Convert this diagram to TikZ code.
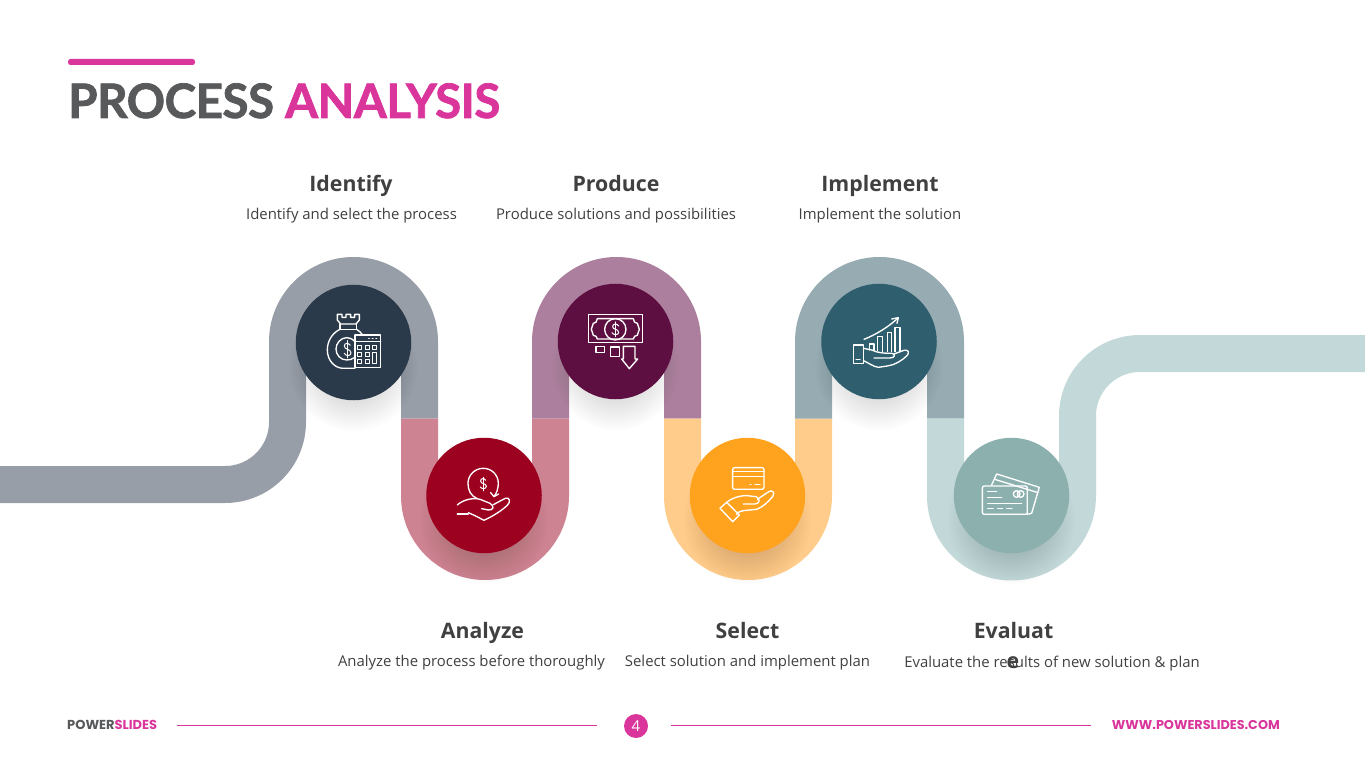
\documentclass[tikz,border=0pt]{standalone}
\usepackage{fontspec}
\setmainfont{Open Sans}
\newfontfamily\titlefont[BoldFeatures={FakeBold=1.6},LetterSpace=-1]{Lato}
\newfontfamily\footfont{Poppins}
\definecolor{pinkc}{HTML}{D9359B}
\definecolor{titlegray}{HTML}{58595B}
\definecolor{textgray}{HTML}{404040}
\definecolor{rA}{HTML}{979EA7}
\definecolor{rB}{HTML}{CE8393}
\definecolor{rC}{HTML}{AC7F9E}
\definecolor{rD}{HTML}{FFCC8B}
\definecolor{rE}{HTML}{96ABB2}
\definecolor{rF}{HTML}{C3D8D8}
\definecolor{cA}{HTML}{2B3A4A}
\definecolor{cB}{HTML}{9C0220}
\definecolor{cC}{HTML}{5E0F42}
\definecolor{cD}{HTML}{FFA21E}
\definecolor{cE}{HTML}{2F5F6E}
\definecolor{cF}{HTML}{8BB0AE}
\tikzset{
  ribbon/.style={line width=37pt,line cap=butt,line join=round},
  disc/.style={circle,inner sep=0pt,minimum size=115.5pt},
  head/.style={anchor=base,font=\bfseries\fontsize{21.3}{24}\selectfont,text=textgray,inner sep=0pt},
  sub/.style={anchor=base,font=\fontsize{14.9}{18}\selectfont,text=textgray,inner sep=0pt},
  ico/.style={draw=white,line width=1.35pt,line cap=round,line join=round},
  zoomA/.style={shift={(280,270)},x=0.3333pt,y=-0.3333pt},
  zoomB/.style={shift={(540,270)},x=0.3333pt,y=-0.3333pt},
  zoomC/.style={shift={(800,270)},x=0.3333pt,y=-0.3333pt},
}
\newcommand{\softshadow}[2]{%
  \foreach \rr in {36,38,...,64}{\fill[black,opacity=.008] (#1,#2+25) circle[radius=\rr pt];}}
\begin{document}
\begin{tikzpicture}[x=1pt,y=-1pt]
\useasboundingbox (0,0) rectangle (1365,767);
% ribbons
\draw[ribbon,rA] (0,484.5) -- (225,484.5) arc[start angle=-90,end angle=0,radius=62.5pt] -- (287.5,341.5) arc[start angle=180,end angle=0,radius=66pt] -- (419.5,418.5);
\draw[ribbon,rB] (419.5,418.5) -- (419.5,496) arc[start angle=180,end angle=360,radius=65.5pt] -- (550.5,418.5);
\draw[ribbon,rC] (550.5,418.5) -- (550.5,341.5) arc[start angle=180,end angle=0,radius=66pt] -- (682.5,418.5);
\draw[ribbon,rD] (682.5,418.5) -- (682.5,496) arc[start angle=180,end angle=360,radius=65.5pt] -- (813.5,418.5);
\draw[ribbon,rE] (813.5,418.5) -- (813.5,341.5) arc[start angle=180,end angle=0,radius=66pt] -- (945.5,418.5);
\draw[ribbon,rF] (945.5,418.5) -- (945.5,496) arc[start angle=180,end angle=360,radius=66pt] -- (1077.5,416) arc[start angle=180,end angle=90,radius=62.5pt] -- (1365,353.5);
% shadows
\softshadow{353.5}{342.5}
\softshadow{484}{495.5}
\softshadow{615.5}{341.5}
\softshadow{747.5}{495.5}
\softshadow{879}{341.5}
\softshadow{1011.5}{495.5}
% discs
\node[disc,fill=cA] (d1) at (353.5,342.5) {};
\node[disc,fill=cB] (d2) at (484,495.5) {};
\node[disc,fill=cC] (d3) at (615.5,341.5) {};
\node[disc,fill=cD] (d4) at (747.5,495.5) {};
\node[disc,fill=cE] (d5) at (879,341.5) {};
\node[disc,fill=cF] (d6) at (1011.5,495.5) {};
% icon 1: money bag and calculator
\begin{scope}[zoomA]
\draw[ico] (172,133) -- (172,150) -- (182,162) -- (228,162) -- (238,150) -- (238,133) -- (224,133) -- (224,142) -- (212,142) -- (212,133) -- (198,133) -- (198,142) -- (186,142) -- (186,133) -- cycle;
\draw[ico] (180,162) -- (180,178) -- (230,178) -- (230,162);
\draw[ico] (180,178) .. controls (155,190) and (142,215) .. (142,240) .. controls (142,272) and (165,295) .. (190,295) -- (225,295);
\draw[ico] (230,178) .. controls (238,183) and (243,188) .. (248,195);
\draw[ico] (225,215) .. controls (216,205) and (206,203) .. (200,203) .. controls (182,203) and (168,220) .. (168,237) .. controls (168,255) and (182,270) .. (200,270) .. controls (208,270) and (218,268) .. (225,262);
\draw[ico,line width=1pt] (211,226) .. controls (206,218) and (193,218) .. (193,228) .. controls (193,240) and (213,236) .. (213,249) .. controls (213,259) and (197,259) .. (193,250);
\draw[ico,line width=1pt] (203,212) -- (203,264);
\draw[ico] (225,195) rectangle (302,293);
\draw[ico] (225,215) -- (302,215);
\draw[ico] (266,206) -- (268,206) (277,206) -- (279,206) (288,206) -- (290,206);
\foreach \yy in {226,248,270}{\foreach \xx in {234,256}{\draw[ico,line width=1pt] (\xx,\yy) rectangle ++(12,12);}}
\draw[ico,line width=1pt] (278,226) rectangle ++(12,12);
\draw[ico,line width=1pt] (278,248) rectangle ++(12,34);
% icon 2: coin over hand
\draw[ico] (592,686) .. controls (572,678) and (564,660) .. (564,640) .. controls (564,615) and (585,595) .. (610,595) .. controls (635,595) and (655,615) .. (655,640) .. controls (655,655) and (650,670) .. (642,680);
\draw[ico] (632,668) -- (642,680) -- (656,672);
\draw[ico,line width=1pt] (617,631) .. controls (613,624) and (602,624) .. (602,633) .. controls (602,643) and (619,639) .. (619,649) .. controls (619,658) and (605,658) .. (601,651);
\draw[ico,line width=1pt] (610,622) -- (610,663);
\draw[ico] (532,705) .. controls (548,690) and (578,682) .. (600,688) -- (630,700) .. controls (645,708) and (640,722) .. (625,720) -- (605,716);
\draw[ico] (640,704) -- (676,685) .. controls (688,680) and (694,695) .. (682,706) .. controls (665,722) and (640,738) .. (612,751) -- (585,737) -- (565,728);
\draw[ico] (532,732) -- (565,732);
\end{scope}
% icon 3: banknote and falling bars
\begin{scope}[zoomB]
\draw[ico] (145,133) rectangle (307,218);
\draw[ico] (172,146) -- (280,146) .. controls (280,155) and (286,160) .. (292,160) -- (298,178) -- (292,196) .. controls (286,196) and (280,200) .. (280,207) -- (172,207) .. controls (172,200) and (166,196) .. (160,196) -- (154,178) -- (160,160) .. controls (166,160) and (172,155) .. (172,146) -- cycle;
\draw[ico] (226,178) circle[radius=32];
\draw[ico,line width=1pt] (236,168) .. controls (232,160) and (218,160) .. (218,170) .. controls (218,180) and (236,176) .. (236,187) .. controls (236,196) and (220,196) .. (216,188);
\draw[ico,line width=1pt] (227,156) -- (227,200);
\draw[ico] (168,229) rectangle (193,247);
\draw[ico] (212,231) rectangle (239,260);
\draw[ico] (250,229) -- (285,229) -- (285,267) -- (293,267) -- (268,296) -- (245,267) -- (250,267) -- cycle;
% icon 4: card over hand
\draw[ico,rounded corners=2pt] (578,593) rectangle (672,658);
\draw[ico] (578,605) -- (672,605) (578,620) -- (672,620);
\draw[ico] (630,644) -- (633,644) (645,644) -- (660,644);
\draw[ico] (540,715) -- (560,697) -- (598,735) -- (578,755) -- cycle;
\draw[ico] (560,697) .. controls (575,685) and (595,677) .. (620,677) -- (648,680) .. controls (662,685) and (660,702) .. (645,702) -- (610,702);
\draw[ico] (652,688) -- (688,664) .. controls (698,660) and (706,668) .. (698,680) .. controls (685,695) and (668,712) .. (650,718) -- (610,722) .. controls (600,723) and (595,727) .. (590,733);
\end{scope}
% icon 5: chart over hand
\begin{scope}[zoomC]
\draw[ico] (192,208) .. controls (225,195) and (265,172) .. (295,143);
\draw[ico] (275,147) -- (295,143) -- (291,160);
\draw[ico] (208,240) -- (208,222) -- (222,222) -- (222,240);
\draw[ico] (232,242) -- (232,200) -- (247,200) -- (247,245);
\draw[ico] (262,245) -- (262,187) -- (275,187) -- (275,245);
\draw[ico] (285,245) -- (285,172) -- (300,172) -- (300,245);
\draw[ico] (160,225) rectangle (190,280);
\draw[ico] (168,268) -- (180,268);
\draw[ico] (190,235) -- (215,240) .. controls (235,250) and (260,250) .. (275,250) .. controls (288,252) and (285,264) .. (270,264) -- (222,264);
\draw[ico] (282,252) -- (312,241) .. controls (325,238) and (330,248) .. (320,258) .. controls (305,272) and (285,285) .. (262,288) -- (235,292) .. controls (220,290) and (208,280) .. (190,272);
% icon 6: two cards
\draw[ico,rounded corners=2pt] (547,648) rectangle (682,733);
\draw[ico] (563,665) -- (590,665) (563,683) -- (605,683) (563,700) -- (665,700);
\draw[ico] (563,716) -- (580,716) (593,716) -- (608,716) (620,716) -- (636,716);
\draw[ico] (650,672) circle[radius=10] (662,672) circle[radius=10];
\draw[ico] (575,645) -- (590,612) -- (718,652) -- (695,730) -- (682,733);
\draw[ico] (584,628) -- (714,668);
\end{scope}
% title
\fill[pinkc,rounded corners=2.5pt] (68,59) rectangle (195,65);
\node[anchor=base west,inner sep=0pt,font=\titlefont\bfseries\fontsize{47.5}{54}\selectfont] (title) at (68,118) {\textcolor{titlegray}{PROCESS} \textcolor{pinkc}{ANALYSIS}};
% labels
\node[head] (h1) at (351,192) {Identify};
\node[sub] (s1) at (351.5,220) {Identify and select the process};
\node[head] (h3) at (616,192) {Produce};
\node[sub] (s3) at (616,220) {Produce solutions and possibilities};
\node[head] (h5) at (880,192) {Implement};
\node[sub] (s5) at (880,220) {Implement the solution};
\node[head] (h2) at (482.5,638) {Analyze};
\node[sub] (s2) at (471.5,666) {Analyze the process before thoroughly};
\node[head] (h4) at (747.5,638) {Select};
\node[sub] (s4) at (747.5,666) {Select solution and implement plan};
\node[head] (h6) at (1013.5,638) {Evaluat};
\node[sub] (s6) at (1052,667) {Evaluate the results of new solution \& plan};
\node[head] (h6e) at (1013,668) {e};
% footer
\node[anchor=west,inner sep=0pt,font=\footfont\bfseries\fontsize{13}{15}\selectfont] (brand) at (67,724.5) {\textcolor{titlegray}{POWER}\textcolor{pinkc}{SLIDES}};
\node[anchor=east,inner sep=0pt,font=\footfont\bfseries\fontsize{12.8}{15}\selectfont,text=pinkc] (web) at (1280,724.5) {WWW.POWERSLIDES.COM};
\node[circle,fill=pinkc,inner sep=0pt,minimum size=24pt,text=white,font=\fontsize{15}{17}\selectfont] (pg) at (636,726) {4};
\coordinate (la) at (177,724.8);
\coordinate (lb) at (597,726.4);
\coordinate (rb) at (671,724.8);
\coordinate (ra) at (1091,726.4);
\fill[pinkc] (la) rectangle (lb);
\fill[pinkc] (rb) rectangle (ra);
\end{tikzpicture}
\end{document}
